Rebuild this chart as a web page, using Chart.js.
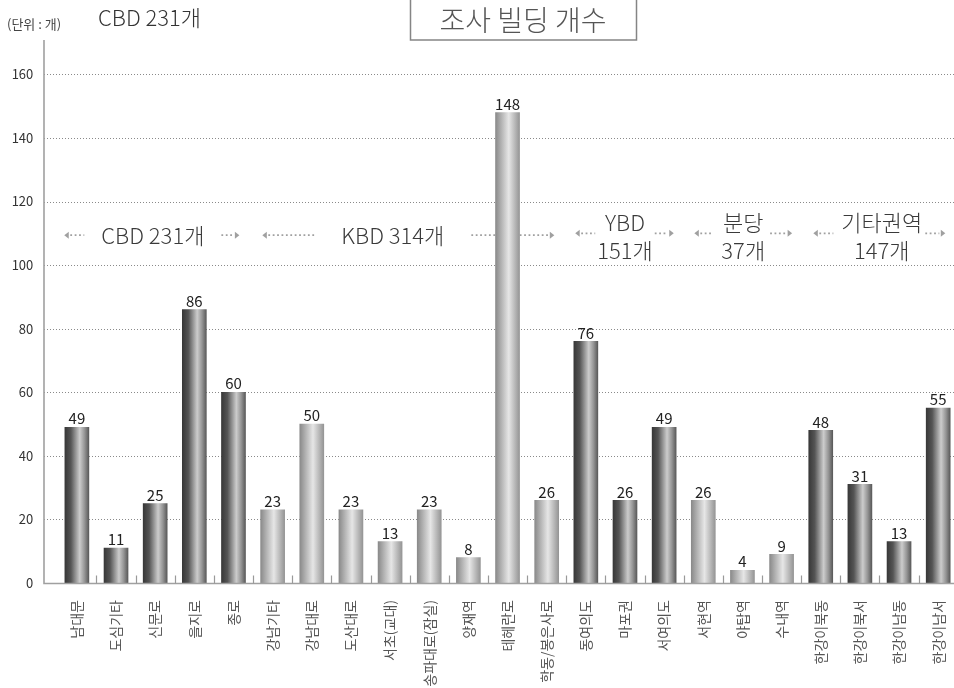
<!DOCTYPE html>
<html>
<head>
<meta charset="utf-8">
<script src="https://cdn.jsdelivr.net/npm/chart.js@4"></script>
<style>
  html, body { margin: 0; padding: 0; overflow: hidden; background: #fff; }
  #wrap { width: 964px; height: 688px; }
</style>
</head>
<body>
<div id="wrap"><canvas id="chart" width="964" height="688"></canvas></div>
<script>
// categories and counts
var labels = ['남대문', '도심기타', '신문로', '을지로', '종로',
  '강남기타', '강남대로', '도산대로', '서초(교대)', '송파대로(잠실)', '양재역', '테헤란로', '학동/봉은사로',
  '동여의도', '마포권', '서여의도',
  '서현역', '야탑역', '수내역',
  '한강이북동', '한강이북서', '한강이남동', '한강이남서'];
var counts = [49, 11, 25, 86, 60, 23, 50, 23, 13, 23, 8, 148, 26, 76, 26, 49, 26, 4, 9, 48, 31, 13, 55];

// groups: first index, last index, label lines
var groupStart = [0, 5, 13, 16, 19];
var groupEnd = [4, 12, 15, 18, 22];
var groupText = [['CBD 231개'], ['KBD 314개'], ['YBD', '151개'], ['분당', '37개'], ['기타권역', '147개']];

var yTicks = [0, 20, 40, 60, 80, 100, 120, 140, 160];

// where the group captions sit (category index, y value) and arrow sizes
var capLayout = [
  { at: 1.94, ys: [109.4], arrowY: 109.4, gapL: 17, lenL: 20, gapR: 17, lenR: 18 },
  { at: 8.07, ys: [109.4], arrowY: 109.4, gapL: 25, lenL: 54, gapR: 27, lenR: 83 },
  { at: 14.0, ys: [113.5, 104.6], arrowY: 110, gapL: 2, lenL: 20, gapR: 2, lenR: 19 },
  { at: 17.02, ys: [113.5, 104.6], arrowY: 110, gapL: 8, lenL: 19, gapR: 5, lenR: 22 },
  { at: 20.56, ys: [113.5, 104.6], arrowY: 110, gapL: 8, lenL: 20, gapR: 3, lenR: 20 }
];

var FONT = "'Noto Sans CJK KR', 'Noto Sans', sans-serif";

function groupOf(i) {
  for (var g = 0; g < groupStart.length; g++) {
    if (i >= groupStart[g] && i <= groupEnd[g]) return g;
  }
  return 0;
}

// dark / light metallic fill, alternating by group
function barFill(context) {
  var chart = context.chart;
  var xs = chart.scales.x;
  if (!chart.chartArea || !xs || context.type !== 'data') return '#888';
  var px = xs.getPixelForValue(context.dataIndex);
  var g = chart.ctx.createLinearGradient(px - 12, 0, px + 12, 0);
  if (groupOf(context.dataIndex) % 2 === 0) {
    g.addColorStop(0, '#383838');
    g.addColorStop(0.25, '#555555');
    g.addColorStop(0.62, '#cccccc');
    g.addColorStop(0.82, '#959595');
    g.addColorStop(1, '#5a5a5a');
  } else {
    g.addColorStop(0, '#8a8a8a');
    g.addColorStop(0.55, '#e6e6e6');
    g.addColorStop(1, '#959595');
  }
  return g;
}

function drawArrow(ctx, x1, x2, y, dir) {
  // dotted shaft from x1 to x2, head at x1 (dir -1) or x2 (dir 1)
  ctx.save();
  ctx.strokeStyle = '#a0a0a0';
  ctx.fillStyle = '#a0a0a0';
  ctx.lineWidth = 1.8;
  ctx.setLineDash([1.8, 2.6]);
  ctx.beginPath();
  if (dir < 0) { ctx.moveTo(x1 + 6, y); ctx.lineTo(x2, y); }
  else { ctx.moveTo(x1, y); ctx.lineTo(x2 - 6, y); }
  ctx.stroke();
  ctx.setLineDash([]);
  ctx.beginPath();
  var hx = dir < 0 ? x1 : x2;
  ctx.moveTo(hx, y);
  ctx.lineTo(hx - dir * 4.5, y - 3.5);
  ctx.lineTo(hx - dir * 4.5, y + 3.5);
  ctx.closePath();
  ctx.fill();
  ctx.restore();
}

var decor = {
  id: 'decor',
  beforeDatasetsDraw: function (chart) {
    var ctx = chart.ctx;
    var xs = chart.scales.x;
    var ys = chart.scales.y;
    var left = 44;
    var right = chart.chartArea.right;

    // dotted grid
    ctx.save();
    ctx.strokeStyle = '#8a8a8a';
    ctx.lineWidth = 1;
    ctx.setLineDash([1, 2]);
    yTicks.forEach(function (v) {
      if (v === 0) return;
      var y = Math.round(ys.getPixelForValue(v)) + 0.5;
      ctx.beginPath();
      ctx.moveTo(left, y);
      ctx.lineTo(right, y);
      ctx.stroke();
    });
    ctx.restore();

    // group captions with arrows
    ctx.save();
    ctx.font = '300 22px ' + FONT;
    ctx.fillStyle = '#3a3a3a';
    ctx.textAlign = 'center';
    ctx.textBaseline = 'middle';
    groupText.forEach(function (lines, g) {
      var lay = capLayout[g];
      var cx = xs.getPixelForValue(0) + lay.at * (xs.getPixelForValue(1) - xs.getPixelForValue(0));
      var w = 0;
      lines.forEach(function (t, k) {
        w = Math.max(w, ctx.measureText(t).width);
        ctx.fillText(t, cx, ys.getPixelForValue(lay.ys[k]));
      });
      var ay = ys.getPixelForValue(lay.arrowY);
      var l0 = cx - w / 2 - lay.gapL;
      drawArrow(ctx, l0 - lay.lenL, l0, ay, -1);
      var r0 = cx + w / 2 + lay.gapR;
      drawArrow(ctx, r0, r0 + lay.lenR, ay, 1);
    });
    ctx.restore();
  },
  afterDatasetsDraw: function (chart) {
    var ctx = chart.ctx;
    var xs = chart.scales.x;
    var ys = chart.scales.y;
    var bottom = Math.round(ys.getPixelForValue(0)) + 0.5;
    var top = chart.chartArea.top;

    ctx.save();
    // axes
    ctx.strokeStyle = '#a0a0a0';
    ctx.lineWidth = 1.6;
    ctx.beginPath();
    ctx.moveTo(44, top);
    ctx.lineTo(44, bottom);
    ctx.lineTo(chart.chartArea.right, bottom);
    ctx.stroke();

    // small ticks between categories
    ctx.lineWidth = 1.2;
    ctx.strokeStyle = '#999';
    var step = xs.getPixelForValue(1) - xs.getPixelForValue(0);
    for (var i = 0; i < labels.length - 1; i++) {
      var tx = Math.round(xs.getPixelForValue(i) + step / 2) + 0.5;
      ctx.beginPath();
      ctx.moveTo(tx, bottom - 8);
      ctx.lineTo(tx, bottom);
      ctx.stroke();
    }

    // value labels
    ctx.font = '15px ' + FONT;
    ctx.fillStyle = '#222';
    ctx.textAlign = 'center';
    ctx.textBaseline = 'bottom';
    chart.getDatasetMeta(0).data.forEach(function (bar, k) {
      ctx.fillText(String(counts[k]), bar.x, bar.y - 1);
    });
    ctx.restore();
  },
  afterDraw: function (chart) {
    var ctx = chart.ctx;
    ctx.save();
    // title box
    ctx.strokeStyle = '#858585';
    ctx.lineWidth = 1.5;
    ctx.strokeRect(410.5, -2, 226, 42);
    ctx.fillStyle = '#555';
    ctx.font = '300 28px ' + FONT;
    ctx.textAlign = 'center';
    ctx.textBaseline = 'middle';
    ctx.fillText('조사 빌딩 개수', 523, 20);

    ctx.textAlign = 'left';
    ctx.fillStyle = '#444';
    ctx.font = '13px ' + FONT;
    ctx.fillText('(단위 : 개)', 7, 24);
    ctx.fillStyle = '#333';
    ctx.font = '300 22px ' + FONT;
    ctx.fillText(groupText[0][0], 98, 18);
    ctx.restore();
  }
};

new Chart(document.getElementById('chart'), {
  type: 'bar',
  data: {
    labels: labels,
    datasets: [{
      data: counts,
      backgroundColor: barFill,
      borderWidth: 0,
      barThickness: 24
    }]
  },
  options: {
    responsive: false,
    animation: false,
    layout: { padding: { top: 40, left: 0, right: 0, bottom: 0 } },
    plugins: { legend: { display: false }, tooltip: { enabled: false } },
    scales: {
      x: {
        offset: true,
        grid: { display: false },
        border: { display: false },
        afterFit: function (scale) { scale.height = 105; },
        ticks: {
          autoSkip: false,
          minRotation: 90,
          maxRotation: 90,
          padding: 9,
          color: '#555',
          font: { family: FONT, size: 14 }
        }
      },
      y: {
        min: 0,
        max: 170.8,
        grid: { display: false },
        border: { display: false },
        afterFit: function (scale) { scale.width = 57.3; },
        afterBuildTicks: function (scale) {
          scale.ticks = yTicks.map(function (v) { return { value: v }; });
        },
        ticks: {
          padding: 16,
          color: '#333',
          font: { family: FONT, size: 13 }
        }
      }
    }
  },
  plugins: [decor]
});
</script>
</body>
</html>
